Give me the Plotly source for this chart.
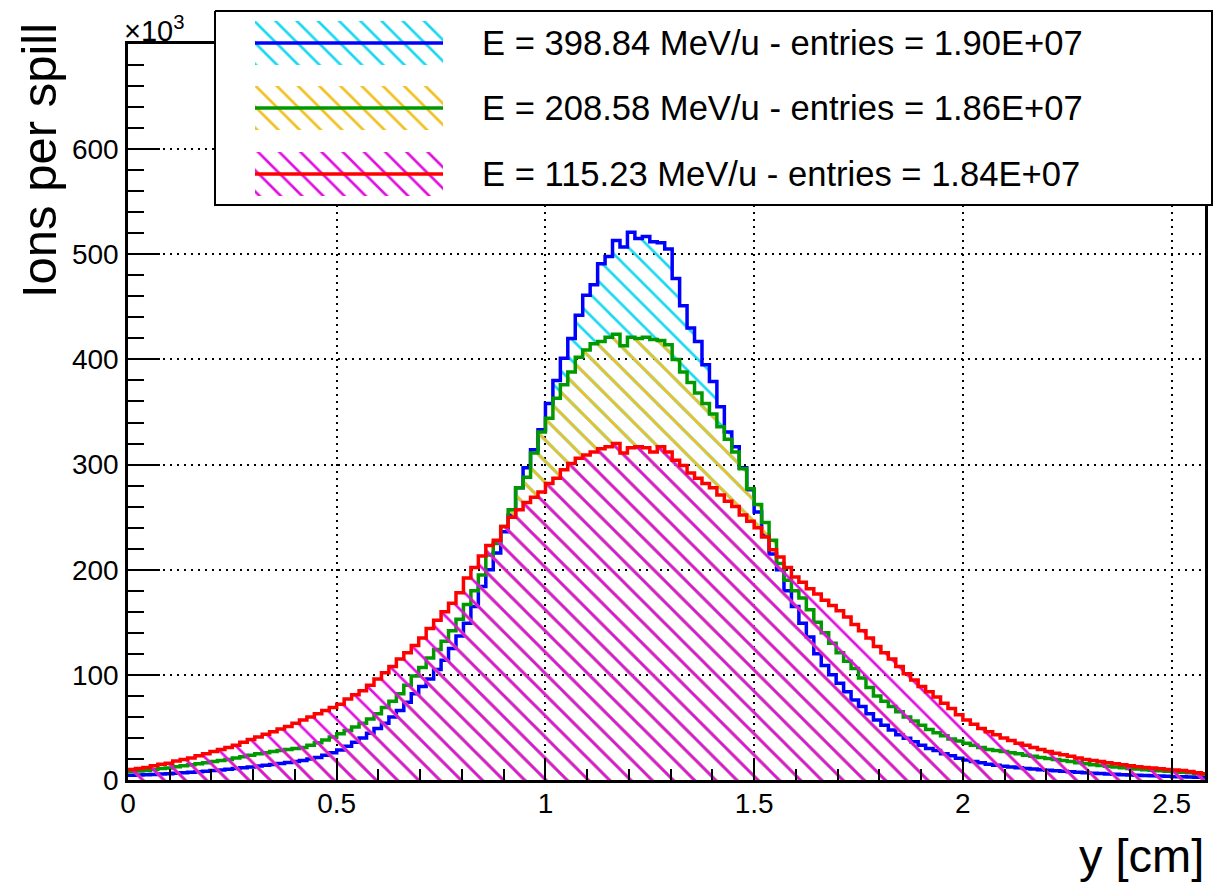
import numpy as np
import plotly.graph_objects as go

W, H = 1216, 884

# ---------------- data (ions per spill, x10^3) ----------------
bin_width = 1 / 56  # cm
x_range = [0, 2.58]
y_range = [0, 699.99]
x_ticks = [0, 0.5, 1, 1.5, 2, 2.5]
y_ticks = [0, 100, 200, 300, 400, 500, 600]

blue_vals = [
    4.5, 4.7, 5.0, 5.3, 5.6, 6.0, 6.4, 6.8, 7.3, 7.8,
    8.4, 9.0, 9.6, 10.3, 11.0, 11.7, 12.4, 13.2, 14.0, 14.8,
    15.7, 16.6, 17.6, 18.6, 20.0, 21.5, 23.5, 26.0, 28.5, 32.0,
    36.0, 40.0, 44.5, 49.0, 54.0, 60.0, 66.0, 74.0, 82.0, 89.0,
    96.0, 105.0, 114.0, 125.0, 137.0, 149.0, 165.0, 184.0, 200.0, 216.0,
    236.0, 252.0, 278.0, 297.0, 314.0, 333.0, 358.0, 380.0, 401.0, 420.0,
    442.0, 461.0, 471.0, 491.0, 498.0, 513.0, 507.0, 521.0, 515.0, 517.0,
    512.0, 511.0, 505.0, 477.0, 451.0, 430.0, 417.0, 395.0, 379.0, 355.0,
    331.0, 317.0, 297.0, 276.0, 255.0, 233.0, 215.0, 200.0, 180.0, 165.0,
    149.0, 136.0, 120.0, 109.0, 100.0, 92.0, 84.0, 76.0, 70.0, 63.0,
    57.0, 52.0, 47.5, 43.0, 39.6, 36.4, 33.0, 30.0, 28.0, 25.0,
    23.0, 20.6, 19.0, 17.5, 16.3, 15.0, 14.0, 13.0, 12.3, 11.6,
    11.0, 10.4, 9.8, 9.3, 8.8, 8.3, 7.8, 7.3, 6.9, 6.5,
    6.1, 5.8, 5.4, 5.1, 4.8, 4.5, 4.2, 4.0, 3.7, 3.5,
    3.2, 3.0, 2.8, 2.6, 2.4,
]

green_vals = [
    8.0, 8.5, 9.0, 10.0, 11.0, 11.5, 12.5, 13.5, 14.5, 15.5,
    16.5, 17.5, 18.5, 19.5, 21.0, 22.0, 23.5, 25.0, 26.0, 27.0,
    28.0, 29.0, 30.0, 31.0, 33.0, 35.5, 38.0, 41.0, 44.0, 47.0,
    50.5, 54.0, 58.0, 63.0, 69.0, 75.0, 82.0, 90.0, 99.0, 107.0,
    116.0, 124.0, 132.0, 142.0, 153.0, 167.0, 180.0, 195.0, 214.0, 225.0,
    241.0, 257.0, 278.0, 288.0, 311.0, 331.0, 344.0, 363.0, 376.0, 388.0,
    402.0, 409.0, 415.0, 417.0, 421.0, 424.0, 413.0, 421.0, 420.0, 421.0,
    419.0, 418.0, 414.0, 400.0, 388.0, 378.0, 368.0, 358.0, 348.0, 336.0,
    324.0, 312.0, 296.0, 277.0, 262.0, 245.0, 228.0, 206.0, 190.0, 180.0,
    173.0, 162.0, 150.0, 140.0, 130.0, 121.0, 113.0, 106.0, 97.0, 88.0,
    80.0, 75.0, 70.0, 65.0, 60.0, 56.0, 52.0, 48.0, 45.0, 42.0,
    39.0, 37.0, 35.0, 33.0, 31.0, 29.0, 28.0, 27.0, 26.0, 25.0,
    23.5, 22.5, 21.5, 20.5, 19.5, 18.5, 17.5, 16.5, 15.5, 14.5,
    13.8, 13.0, 12.3, 11.7, 11.0, 10.4, 9.8, 9.3, 8.8, 8.3,
    7.8, 7.3, 6.8, 6.3, 5.8,
]

red_vals = [
    10.0, 11.0, 12.0, 13.5, 15.0, 16.0, 18.0, 19.5, 21.0, 23.0,
    25.0, 27.0, 29.0, 31.0, 33.0, 36.0, 38.5, 41.0, 43.5, 46.0,
    48.5, 51.0, 54.0, 57.0, 60.0, 63.0, 66.0, 69.0, 72.0, 77.0,
    81.0, 85.0, 90.0, 96.0, 102.0, 108.0, 115.0, 121.0, 128.0, 135.0,
    144.0, 152.0, 160.0, 168.0, 178.0, 192.0, 202.0, 213.0, 223.0, 228.0,
    241.0, 250.0, 257.0, 264.0, 269.0, 274.0, 282.0, 287.0, 295.0, 301.0,
    306.0, 309.0, 312.0, 315.0, 317.0, 320.0, 311.0, 316.0, 317.0, 316.0,
    312.0, 317.0, 312.0, 304.0, 299.0, 292.0, 287.0, 282.0, 278.0, 271.0,
    265.0, 260.0, 252.0, 246.0, 240.0, 231.0, 219.0, 212.0, 202.0, 193.0,
    188.0, 182.0, 177.0, 171.0, 166.0, 161.0, 155.0, 148.0, 142.0, 135.0,
    127.0, 121.0, 115.0, 108.0, 101.0, 95.0, 89.0, 84.0, 79.0, 73.0,
    68.0, 62.0, 57.0, 53.0, 49.0, 46.0, 43.0, 40.0, 37.5, 35.0,
    33.0, 31.0, 29.0, 27.0, 25.5, 24.0, 22.5, 21.0, 19.5, 18.5,
    17.5, 16.5, 15.5, 14.5, 13.5, 12.7, 12.0, 11.3, 10.7, 10.0,
    9.5, 9.0, 8.0, 7.0, 6.0,
]

series_labels = [
    "E = 398.84 MeV/u - entries = 1.90E+07",
    "E = 208.58 MeV/u - entries = 1.86E+07",
    "E = 115.23 MeV/u - entries = 1.84E+07",
]
series_vals = [blue_vals, green_vals, red_vals]

# ---------------- styles ----------------
FONT = "Liberation Sans, Arial, Helvetica, sans-serif"
line_colors = ["#0000ff", "#009a00", "#ff0000"]
hatch_colors = ["#1ad8f0", "#f0c020", "#e010e0"]
HATCH_SIZE = 15
HATCH_SOLID = 0.18
LINE_W = 3.5


def pattern(c):
    return dict(shape="\\", fgcolor=c, bgcolor="rgba(0,0,0,0)",
                size=HATCH_SIZE, solidity=HATCH_SOLID, fillmode="replace")


fig = go.Figure()

for vals, lc, hc in zip(series_vals, line_colors, hatch_colors):
    n = len(vals)
    edges = np.arange(n + 1) * bin_width
    yv = list(vals) + [vals[-1]]
    fig.add_trace(go.Scatter(
        x=edges, y=yv, mode="lines", line=dict(shape="hv", color=lc, width=LINE_W),
        fill="tozeroy", fillcolor="rgba(0,0,0,0)", fillpattern=pattern(hc),
        showlegend=False, hoverinfo="skip", xaxis="x", yaxis="y"))

# ---------------- legend (drawn on a pixel-space overlay subplot) ----------------
LEG_BOX = (215, 11, 1212, 205)
SAMPLE_X = (255, 443)
ROW_Y = [43, 108, 174]
SAMPLE_HALF = 22
TEXT_X = 480

bx0, by0, bx1, by1 = LEG_BOX
fig.add_trace(go.Scatter(
    x=[bx0, bx1, bx1, bx0, bx0], y=[by0, by0, by1, by1, by0],
    mode="lines", fill="toself", fillcolor="white",
    line=dict(color="black", width=2), showlegend=False, hoverinfo="skip",
    xaxis="x2", yaxis="y2"))
for cy, lc, hc in zip(ROW_Y, line_colors, hatch_colors):
    sx0, sx1 = SAMPLE_X
    fig.add_trace(go.Scatter(
        x=[sx0, sx1, sx1, sx0, sx0],
        y=[cy - SAMPLE_HALF, cy - SAMPLE_HALF, cy + SAMPLE_HALF, cy + SAMPLE_HALF, cy - SAMPLE_HALF],
        mode="none", fill="toself", fillcolor="rgba(0,0,0,0)", fillpattern=pattern(hc),
        showlegend=False, hoverinfo="skip", xaxis="x2", yaxis="y2"))
    fig.add_trace(go.Scatter(
        x=[sx0, sx1], y=[cy, cy], mode="lines", line=dict(color=lc, width=LINE_W),
        showlegend=False, hoverinfo="skip", xaxis="x2", yaxis="y2"))

annotations = []
for cy, lab in zip(ROW_Y, series_labels):
    annotations.append(dict(x=TEXT_X, y=cy, xref="x2", yref="y2", text=lab,
                            showarrow=False, xanchor="left", yanchor="middle",
                            font=dict(family=FONT, size=34.6, color="black")))

# exponent label and axis titles
annotations.append(dict(x=122, y=49, xref="x2", yref="y2", text="×10<sup>3</sup>",
                        showarrow=False, xanchor="left", yanchor="bottom",
                        font=dict(family=FONT, size=29, color="black")))
annotations.append(dict(x=39, y=161, xref="x2", yref="y2", text="Ions per spill",
                        showarrow=False, xanchor="center", yanchor="middle", textangle=-90,
                        font=dict(family=FONT, size=49, color="black")))
annotations.append(dict(x=1206, y=855, xref="x2", yref="y2", text="y [cm]",
                        showarrow=False, xanchor="right", yanchor="middle",
                        font=dict(family=FONT, size=47, color="black")))

PLOT_L, PLOT_R, PLOT_T, PLOT_B = 128, 1205, 44, 780

axis_common = dict(
    showline=True, linecolor="black", linewidth=2.5, mirror=True,
    ticks="inside", tickcolor="black", tickwidth=2,
    showgrid=True, gridcolor="black", gridwidth=2, griddash="2px,5px",
    zeroline=False, tickfont=dict(family=FONT, size=28, color="black"),
)

fig.update_layout(
    width=W, height=H,
    margin=dict(l=0, r=0, t=0, b=0, autoexpand=False),
    paper_bgcolor="white", plot_bgcolor="rgba(0,0,0,0)",
    showlegend=False,
    xaxis=dict(domain=[PLOT_L / W, PLOT_R / W], range=x_range,
               tickmode="array", tickvals=x_ticks, ticklen=22,
               ticklabelstandoff=-3,
               minor=dict(ticks="inside", ticklen=11, tickwidth=2, tickcolor="black",
                          tickmode="linear", tick0=0, dtick=0.1, showgrid=False),
               **axis_common),
    yaxis=dict(domain=[1 - PLOT_B / H, 1 - PLOT_T / H], range=y_range,
               tickmode="array", tickvals=y_ticks, ticklen=32,
               ticklabelstandoff=1,
               minor=dict(ticks="inside", ticklen=16, tickwidth=2, tickcolor="black",
                          tickmode="linear", tick0=0, dtick=20, showgrid=False),
               **axis_common),
    xaxis2=dict(domain=[0, 1], range=[0, W], visible=False, fixedrange=True),
    yaxis2=dict(domain=[0, 1], range=[H, 0], visible=False, fixedrange=True),
    annotations=annotations,
)

fig.write_html("out.html", config={"displayModeBar": False},
               post_script="document.body.style.margin='0';")
